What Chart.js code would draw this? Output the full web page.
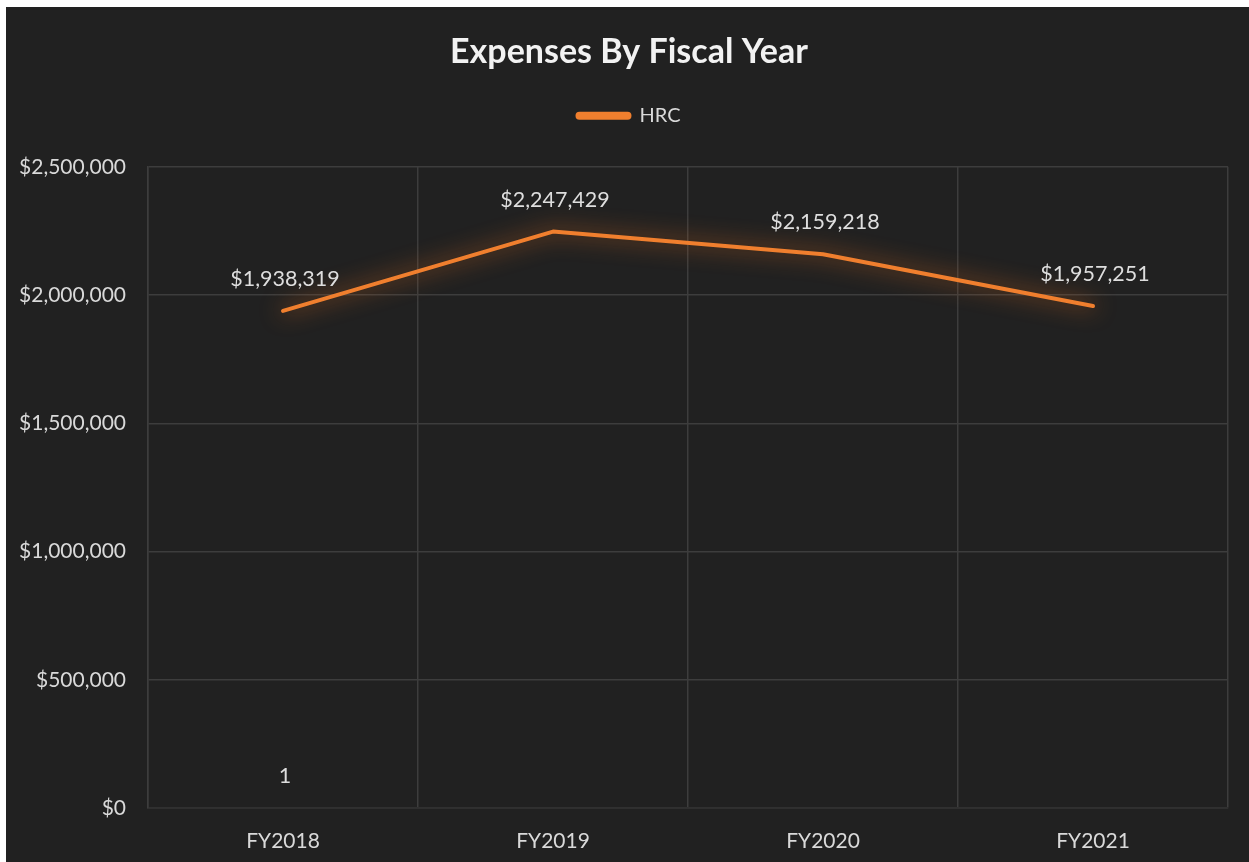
<!DOCTYPE html>
<html>
<head>
<meta charset="utf-8">
<script src="https://cdn.jsdelivr.net/npm/chart.js@4/dist/chart.umd.min.js"></script>
<style>
  html, body { margin: 0; padding: 0; background: #ffffff; }
  #wrap { position: absolute; left: 6px; top: 7px; width: 1243px; height: 855px; }
</style>
</head>
<body>
<div id="wrap"><canvas id="chart_expensesByFiscalYear"></canvas></div>
<script>
// values
var fiscalYears = ['FY2018', 'FY2019', 'FY2020', 'FY2021'];
var hrcExpenses = [1938319, 2247429, 2159218, 1957251];
var strayValues = [1, null, null, null];   // the lone "1" label near the bottom
var yTicks = [0, 500000, 1000000, 1500000, 2000000, 2500000];

var FONT = 'Lato, "Open Sans", sans-serif';
var ORANGE = '#f07f2e';

function dollars(v) {
    return '$' + Number(v).toLocaleString('en-US');
}

var chart_expensesByFiscalYear = new Chart(document.getElementById('chart_expensesByFiscalYear'), {
    type: 'line',
    data: {
        labels: fiscalYears,
        datasets: [
            {
                label: 'HRC',
                data: hrcExpenses,
                borderColor: ORANGE,
                backgroundColor: ORANGE,
                borderWidth: 4,
                borderCapStyle: 'round',
                borderJoinStyle: 'round',
                pointRadius: 0,
                tension: 0,
                labelFormat: dollars
            },
            {
                label: 'stray',
                data: strayValues,
                borderColor: 'rgba(0,0,0,0)',
                borderWidth: 0,
                pointRadius: 0,
                labelFormat: function(v) { return String(v); }
            }
        ]
    },
    options: {
        animation: false,
        responsive: true,
        maintainAspectRatio: false,
        layout: {
            padding: { left: 0, right: 21, top: 0, bottom: 0 }
        },
        plugins: {
            title: {
                display: true,
                text: 'Expenses By Fiscal Year',
                color: '#f2f2f2',
                font: { family: FONT, size: 34, weight: 'bold' },
                padding: { top: 25, bottom: 23 }
            },
            legend: {
                display: true,
                labels: {
                    color: '#d9d9d9',
                    font: { family: FONT, size: 20 },
                    boxWidth: 52,
                    boxHeight: 4,
                    useBorderRadius: true,
                    borderRadius: 2,
                    padding: 10,
                    filter: function(item) { return item.text === 'HRC'; }
                }
            },
            tooltip: { enabled: false }
        },
        scales: {
            x: {
                type: 'category',
                offset: true,
                grid: { color: '#3d3d3d', offset: true, drawTicks: false, lineWidth: 1.5 },
                border: { color: '#303030', width: 1.5 },
                ticks: {
                    color: '#d9d9d9',
                    font: { family: FONT, size: 21 },
                    padding: 21
                },
                afterFit: function(scale) { scale.height = 54; }
            },
            y: {
                min: 0,
                max: 2500000,
                afterBuildTicks: function(scale) {
                    scale.ticks = yTicks.map(function(v) { return { value: v }; });
                },
                grid: { color: '#3d3d3d', drawTicks: false, lineWidth: 1.5 },
                border: { color: '#3d3d3d', width: 1.5 },
                ticks: {
                    color: '#d9d9d9',
                    font: { family: FONT, size: 21 },
                    padding: 22,
                    callback: function(value) { return dollars(value); }
                },
                afterFit: function(scale) { scale.width = 142; }
            }
        }
    },
    plugins: [{
        id: 'customPlugin',
        beforeInit: (chart) => {
            // extra room between legend and plot area
            const fit = chart.legend.fit;
            chart.legend.fit = function() {
                fit.call(this);
                this.height += 31;
            };
            // title and legend sit a little right of the canvas centre
            [chart.titleBlock, chart.legend].forEach(function(box) {
                const draw = box.draw;
                box.draw = function() {
                    chart.ctx.save();
                    chart.ctx.translate(12, 0);
                    draw.apply(this, arguments);
                    chart.ctx.restore();
                };
            });
        },
        beforeDraw: (chart) => {
            const ctx = chart.ctx;
            ctx.save();
            ctx.globalCompositeOperation = 'destination-over';
            ctx.fillStyle = '#212121';
            ctx.fillRect(0, 0, chart.width, chart.height);
            ctx.restore();
        },
        beforeDatasetDraw: (chart, args) => {
            const ctx = chart.ctx;
            ctx.save();
            if (args.index === 0) {
                ctx.shadowColor = 'rgba(240,115,30,0.9)';
                ctx.shadowBlur = 22;
            }
        },
        afterDatasetDraw: (chart) => {
            chart.ctx.restore();
        },
        afterDatasetsDraw: (chart) => {
            const ctx = chart.ctx;
            ctx.save();
            ctx.font = '21.5px ' + FONT;
            ctx.fillStyle = '#dedede';
            ctx.textAlign = 'center';
            ctx.textBaseline = 'middle';
            chart.data.datasets.forEach(function(ds, i) {
                const meta = chart.getDatasetMeta(i);
                meta.data.forEach(function(pt, j) {
                    const v = ds.data[j];
                    if (v === null || v === undefined) return;
                    ctx.fillText(ds.labelFormat(v), pt.x + 2, pt.y - 32);
                });
            });
            ctx.restore();
        }
    }]
});
</script>
</body>
</html>
